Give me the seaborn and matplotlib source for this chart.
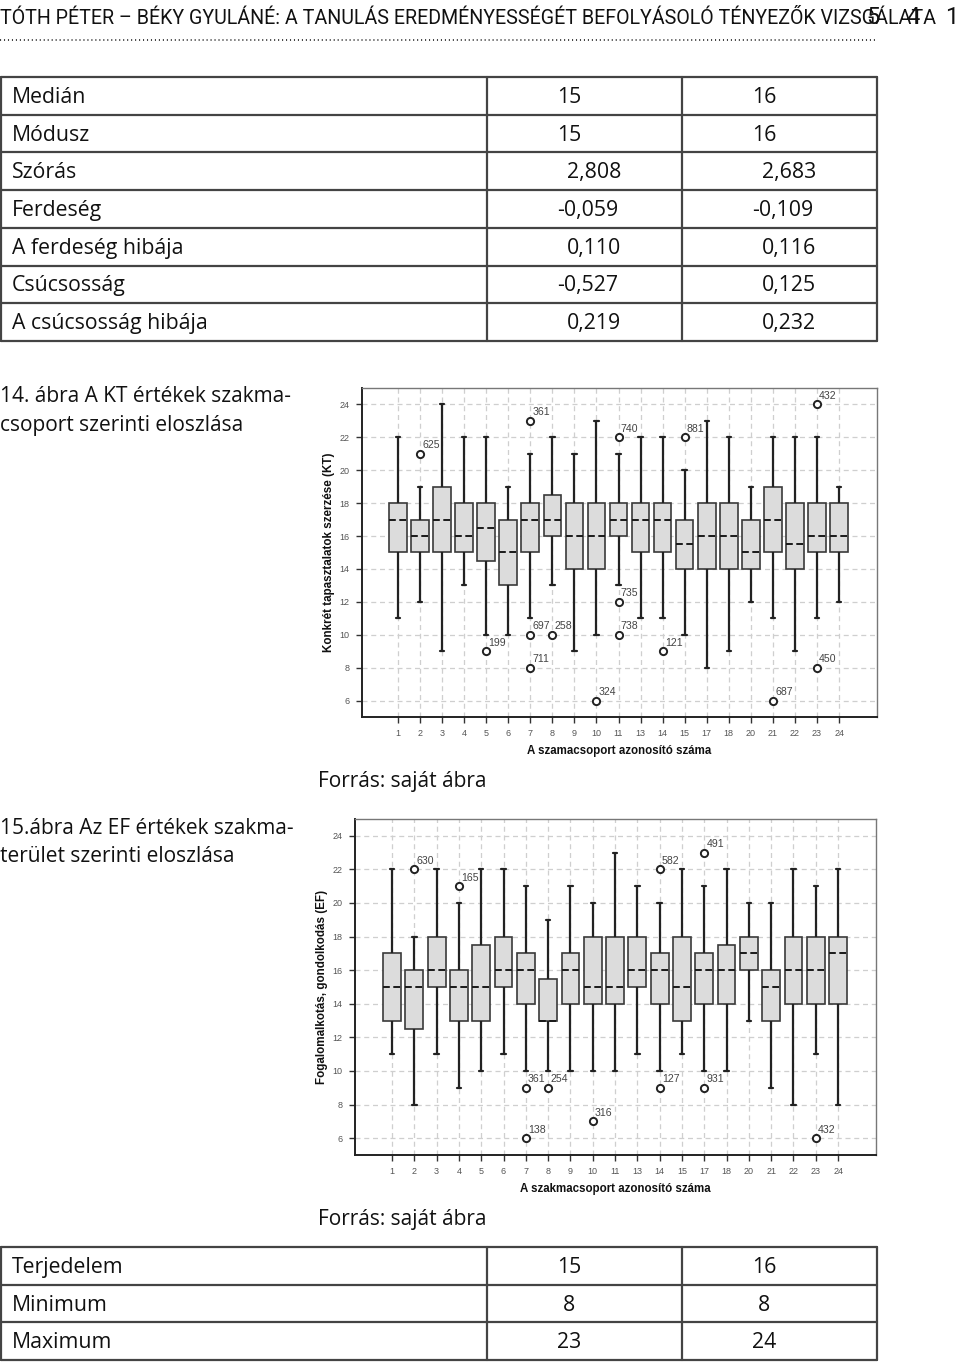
import numpy as np
import pandas as pd
import matplotlib
matplotlib.use("Agg")
import matplotlib.pyplot as plt
import seaborn as sns

# ---------------- data ----------------
header_title = "TÓTH PÉTER – BÉKY GYULÁNÉ: A TANULÁS EREDMÉNYESSÉGÉT BEFOLYÁSOLÓ TÉNYEZŐK VIZSGÁLATA"
page_digits = ["5", "4", "1"]

table1_labels = ["Medián", "Módusz", "Szórás", "Ferdeség", "A ferdeség hibája",
                 "Csúcsosság", "A csúcsosság hibája"]
table1_col1 = ["15", "15", "2,808", "-0,059", "0,110", "-0,527", "0,219"]
table1_col2 = ["16", "16", "2,683", "-0,109", "0,116", "0,125", "0,232"]

table2_labels = ["Terjedelem", "Minimum", "Maximum"]
table2_col1 = ["15", "8", "23"]
table2_col2 = ["16", "8", "24"]

caption1 = ["14. ábra A KT értékek szakma-", "csoport szerinti eloszlása"]
caption2 = ["15.ábra Az EF értékek szakma-", "terület szerinti eloszlása"]
source_text = "Forrás: saját ábra"

groups = ["1", "2", "3", "4", "5", "6", "7", "8", "9", "10", "11", "13",
          "14", "15", "17", "18", "20", "21", "22", "23", "24"]

# KT chart (five-number summaries per group)
kt_low  = [11, 12, 9, 13, 10, 10, 11, 13, 9, 10, 13, 11, 11, 10, 8, 9, 12, 11, 9, 11, 12]
kt_q1   = [15, 15, 15, 15, 14.5, 13, 15, 16, 14, 14, 16, 15, 15, 14, 14, 14, 14, 15, 14, 15, 15]
kt_med  = [17, 16, 17, 16, 16.5, 15, 17, 17, 16, 16, 17, 17, 17, 15.5, 16, 16, 15, 17, 15.5, 16, 16]
kt_q3   = [18, 17, 19, 18, 18, 17, 18, 18.5, 18, 18, 18, 18, 18, 17, 18, 18, 17, 19, 18, 18, 18]
kt_high = [22, 19, 24, 22, 22, 19, 21, 22, 21, 23, 21, 22, 22, 20, 23, 22, 19, 22, 22, 22, 19]
kt_out_group = ["2", "5", "7", "7", "7", "8", "10", "11", "11", "11", "14", "15", "21", "23", "23"]
kt_out_value = [21, 9, 23, 10, 8, 10, 6, 22, 12, 10, 9, 22, 6, 24, 8]
kt_out_label = ["625", "199", "361", "697", "711", "258", "324", "740", "735", "738",
                "121", "881", "687", "432", "450"]

# EF chart
ef_low  = [11, 8, 11, 9, 10, 11, 10, 10, 10, 10, 10, 11, 10, 11, 10, 10, 13, 9, 8, 11, 8]
ef_q1   = [13, 12.5, 15, 13, 13, 15, 14, 13, 14, 14, 14, 15, 14, 13, 14, 14, 16, 13, 14, 14, 14]
ef_med  = [15, 15, 16, 15, 15, 16, 16, 13, 16, 15, 15, 16, 16, 15, 16, 16, 17, 15, 16, 16, 17]
ef_q3   = [17, 16, 18, 16, 17.5, 18, 17, 15.5, 17, 18, 18, 18, 17, 18, 17, 17.5, 18, 16, 18, 18, 18]
ef_high = [22, 18, 22, 20, 22, 22, 21, 19, 21, 20, 23, 21, 20, 22, 21, 22, 20, 20, 22, 21, 22]
ef_out_group = ["2", "4", "7", "7", "8", "10", "14", "14", "17", "17", "23"]
ef_out_value = [22, 21, 9, 6, 9, 7, 22, 9, 23, 9, 6]
ef_out_label = ["630", "165", "361", "138", "254", "316", "582", "127", "491", "931", "432"]

y_ticks = [6, 8, 10, 12, 14, 16, 18, 20, 22, 24]

# ---------------- style ----------------
sns.set_theme(style="white")
plt.rcParams["font.family"] = ["Liberation Sans", "DejaVu Sans"]

W, H = 960, 1363
fig = plt.figure(figsize=(W / 100, H / 100), dpi=100)

# page overlay axes in pixel coordinates
ax0 = fig.add_axes([0, 0, 1, 1], zorder=0)
ax0.set_xlim(0, W)
ax0.set_ylim(H, 0)
ax0.axis("off")

body_font = ["Open Sans", "DejaVu Sans"]
head_font = ["Roboto", "DejaVu Sans"]
body_size = 15.3

# header, fitted to the reference width
renderer = fig.canvas.get_renderer()
hdr = ax0.text(0, 19, header_title, fontsize=16, family=head_font, color="#111",
               ha="left", va="center")
wpx = hdr.get_window_extent(renderer=renderer).width
hdr.set_fontsize(16 * 940.0 / wpx)
for d, xx in zip(page_digits, [866, 906, 945]):
    ax0.text(xx, 18, d, fontsize=17, family=head_font, color="#111",
             ha="left", va="center")
ax0.plot([0, 877], [40, 40], color="#333", lw=1.3, linestyle=(0, (0.6, 1.6)))


def draw_table(top, labels, c1, c2, row_h):
    n = len(labels)
    bottom = top + n * row_h
    lc = "#444"
    for i in range(n + 1):
        ax0.plot([1, 877], [top + i * row_h] * 2, color=lc, lw=1.6)
    for xx in [1, 487, 682, 877]:
        ax0.plot([xx, xx], [top, bottom], color=lc, lw=1.6)
    for i, (lab, a, b) in enumerate(zip(labels, c1, c2)):
        yc = top + (i + 0.5) * row_h + 1.5
        ax0.text(12, yc, lab, fontsize=body_size, family=body_font, color="#111",
                 ha="left", va="center")
        for val, base in [(a, 557), (b, 752)]:
            if len(val) == 1:
                off = 6
            elif val[0].isdigit() and "," in val:
                off = 10
            else:
                off = 0
            ax0.text(base + off, yc, val, fontsize=body_size, family=body_font,
                     color="#111", ha="left", va="center")


draw_table(77, table1_labels, table1_col1, table1_col2, 37.7)
draw_table(1247, table2_labels, table2_col1, table2_col2, 37.7)

for i, line in enumerate(caption1):
    ax0.text(0, 397 + i * 28, line, fontsize=15, family=body_font, color="#111",
             ha="left", va="center")
for i, line in enumerate(caption2):
    ax0.text(0, 829 + i * 28, line, fontsize=15, family=body_font, color="#111",
             ha="left", va="center")
ax0.text(318, 781, source_text, fontsize=15, family=body_font, color="#111",
         ha="left", va="center")
ax0.text(318, 1220, source_text, fontsize=15, family=body_font, color="#111",
         ha="left", va="center")


def five_num_frame(low, q1, med, q3, high):
    rows = []
    for g, a, b, c, d, e in zip(groups, low, q1, med, q3, high):
        for v in (a, b, c, d, e):
            rows.append({"group": g, "value": v})
    return pd.DataFrame(rows)


def draw_box(rect_px, df, out_g, out_v, out_l, ylabel, xlabel, xlim):
    left, right, top, bottom = rect_px
    ax = fig.add_axes([left / W, 1 - bottom / H, (right - left) / W, (bottom - top) / H],
                      zorder=2)
    ax.set_facecolor("white")
    sns.boxplot(data=df, x="group", y="value", order=groups, ax=ax,
                whis=(0, 100), width=0.8, color="#dcdcdc", linecolor="#3a3a3a",
                linewidth=1.2, capwidths=0.2, showfliers=False,
                medianprops={"linestyle": (0, (3.5, 1.8)), "color": "#1a1a1a",
                             "linewidth": 1.4},
                whiskerprops={"linewidth": 1.6, "color": "#222"},
                capprops={"linewidth": 1.6, "color": "#222"})
    odf = pd.DataFrame({"group": out_g, "value": out_v})
    sns.stripplot(data=odf, x="group", y="value", order=groups, ax=ax, jitter=False,
                  color="white", edgecolor="#222", linewidth=1.4, size=5.2,
                  zorder=5)
    for g, v, l in zip(out_g, out_v, out_l):
        ax.text(groups.index(g) + 0.1, v + 0.22, l, fontsize=7.6, color="#444",
                ha="left", va="bottom", zorder=6)
    ax.set_xlim(*xlim)
    ax.set_ylim(5, 25)
    ax.set_yticks(y_ticks)
    ax.set_yticklabels([str(t) for t in y_ticks])
    ax.grid(True, color="#cfcfcf", linestyle=(0, (4, 3)), linewidth=0.9)
    ax.set_axisbelow(True)
    ax.tick_params(axis="both", which="both", direction="out", length=4,
                   width=1.0, color="#333", labelsize=6.5, labelcolor="#555",
                   left=True, bottom=True, pad=5)
    for s in ["left", "bottom"]:
        ax.spines[s].set_color("#222")
        ax.spines[s].set_linewidth(1.4)
    for s in ["top", "right"]:
        ax.spines[s].set_color("#777")
        ax.spines[s].set_linewidth(1.0)
    ax.set_xlabel(xlabel, fontsize=8.3, fontweight="bold", color="#111", labelpad=5)
    ax.set_ylabel(ylabel, fontsize=8.4, fontweight="bold", color="#111", labelpad=3)
    return ax


kt_df = five_num_frame(kt_low, kt_q1, kt_med, kt_q3, kt_high)
ef_df = five_num_frame(ef_low, ef_q1, ef_med, ef_q3, ef_high)

draw_box((362, 877, 388, 717), kt_df, kt_out_group, kt_out_value, kt_out_label,
         "Konkrét tapasztalatok szerzése (KT)", "A szamacsoport azonosító száma",
         (-1.63, 21.72))
draw_box((355, 876, 819, 1155), ef_df, ef_out_group, ef_out_value, ef_out_label,
         "Fogalomalkotás, gondolkodás (EF)", "A szakmacsoport azonosító száma",
         (-1.66, 21.7))

fig.savefig("out.png", dpi=100, facecolor="white")
